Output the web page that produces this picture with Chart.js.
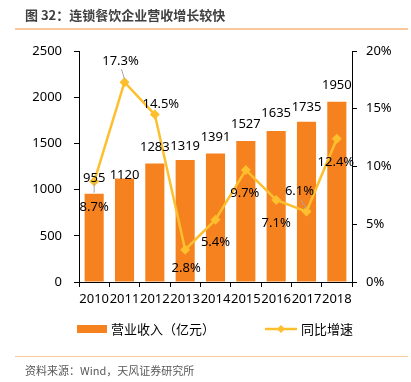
<!DOCTYPE html>
<html><head><meta charset="utf-8">
<script src="https://cdn.jsdelivr.net/npm/chart.js@4/dist/chart.umd.min.js"></script>
<style>
html,body{margin:0;padding:0;background:#fff;}
#wrap{position:relative;width:411px;height:382px;overflow:hidden;font-family:"Noto Sans CJK SC","Noto Sans",sans-serif;}
#title{position:absolute;left:25px;top:5px;font-size:13px;font-weight:bold;color:#404040;line-height:20px;white-space:nowrap;}
#tline{position:absolute;left:15px;top:28px;width:393px;height:2px;background:#F9C89B;}
#bline{position:absolute;left:15px;top:356px;width:393px;height:1px;background:#F9C89B;}
#src{position:absolute;left:25px;top:362px;font-size:11px;color:#595959;line-height:16px;white-space:nowrap;}
#chartbox{position:absolute;left:0;top:0;width:411px;height:382px;}
</style></head>
<body><div id="wrap">
<div id="chartbox"><canvas id="c" width="411" height="382"></canvas></div>
<div id="title">图 32：连锁餐饮企业营收增长较快</div>
<div id="tline"></div>
<div id="bline"></div>
<div id="src">资料来源：Wind，天风证券研究所</div>
</div>
<script>
const years = ['2010','2011','2012','2013','2014','2015','2016','2017','2018'];
const revenue = [955, 1120, 1283, 1319, 1391, 1527, 1635, 1735, 1950];
const growth = [8.7, 17.3, 14.5, 2.8, 5.4, 9.7, 7.1, 6.1, 12.4];
const revenueTicks = [0, 500, 1000, 1500, 2000, 2500];
const growthTicks = [0, 5, 10, 15, 20];
const revenueName = '营业收入（亿元）';
const growthName = '同比增速';

const BAR_COLOR = '#F5821F';
const LINE_COLOR = '#FDBF2D';
const NUM_FONT = '13px "Noto Sans", sans-serif';
const CJK_FONT = '13px "Noto Sans CJK SC", sans-serif';

// label placement (styling only)
const barLabelLift = [12, 0, 12, 10, 12, 13, 14, 11, 13];
const pctLabelShift = [[0,26],[-4,-21],[6,-10],[1,19],[0,23],[-1,23],[0,23],[-7,-20],[-1,24]];
const leaderBars = [0];
const leaderPcts = [1, 7];

const labelPlugin = {
  id: 'labels',
  afterDatasetsDraw(chart) {
    const ctx = chart.ctx;
    ctx.save();
    ctx.font = NUM_FONT;
    ctx.fillStyle = '#000';
    ctx.textAlign = 'center';
    const bars = chart.getDatasetMeta(0).data;
    bars.forEach((el, i) => {
      const y = el.y - barLabelLift[i];
      if (leaderBars.includes(i)) {
        ctx.strokeStyle = '#A6A6A6'; ctx.lineWidth = 1;
        ctx.beginPath(); ctx.moveTo(el.x, y + 1); ctx.lineTo(el.x, el.y - 1); ctx.stroke();
      }
      ctx.textBaseline = 'alphabetic';
      ctx.fillText(String(revenue[i]), el.x, y);
    });
    const pts = chart.getDatasetMeta(1).data;
    pts.forEach((el, i) => {
      const [dx, dy] = pctLabelShift[i];
      const x = el.x + dx, y = el.y + dy;
      if (leaderPcts.includes(i)) {
        ctx.strokeStyle = '#A6A6A6'; ctx.lineWidth = 1;
        ctx.beginPath(); ctx.moveTo(x + 1, y + 8); ctx.lineTo(el.x, el.y - 3); ctx.stroke();
      }
      ctx.textBaseline = 'middle';
      ctx.fillText(growth[i].toFixed(1) + '%', x, y);
    });
    ctx.restore();
  },
  afterDraw(chart) {
    const ctx = chart.ctx;
    ctx.save();
    const ly = 329;
    ctx.fillStyle = BAR_COLOR;
    ctx.fillRect(77, ly - 4, 30, 8);
    ctx.font = CJK_FONT;
    ctx.fillStyle = '#000';
    ctx.textAlign = 'left';
    ctx.textBaseline = 'middle';
    ctx.fillText(chart.data.datasets[0].label, 111, ly);
    ctx.strokeStyle = LINE_COLOR; ctx.lineWidth = 2.5;
    ctx.beginPath(); ctx.moveTo(265, ly); ctx.lineTo(297, ly); ctx.stroke();
    ctx.fillStyle = LINE_COLOR;
    ctx.beginPath(); ctx.moveTo(281, ly - 4); ctx.lineTo(285, ly); ctx.lineTo(281, ly + 4); ctx.lineTo(277, ly); ctx.closePath(); ctx.fill();
    ctx.fillStyle = '#000';
    ctx.fillText(chart.data.datasets[1].label, 301, ly);
    ctx.restore();
  }
};

new Chart(document.getElementById('c'), {
  data: {
    labels: years,
    datasets: [
      { type: 'bar', label: revenueName, data: revenue, backgroundColor: BAR_COLOR,
        yAxisID: 'y', barPercentage: 0.63, categoryPercentage: 1.0, order: 2 },
      { type: 'line', label: growthName, data: growth, borderColor: LINE_COLOR, backgroundColor: LINE_COLOR,
        borderWidth: 2.5, pointStyle: 'rectRot', pointRadius: 5, pointBorderWidth: 0, tension: 0,
        yAxisID: 'y1', order: 1 }
    ]
  },
  options: {
    responsive: false,
    animation: false,
    devicePixelRatio: 1,
    layout: { padding: { top: 51, left: 0, right: 0, bottom: 70 } },
    plugins: { legend: { display: false }, tooltip: { enabled: false }, title: { display: false } },
    scales: {
      x: {
        grid: { offset: true, drawOnChartArea: false, tickLength: 5, color: '#000' },
        border: { color: '#000', width: 1 },
        ticks: { color: '#000', font: { family: 'Noto Sans', size: 13 }, padding: 4, maxRotation: 0, autoSkip: false },
        afterFit(s) { s.height = 30; }
      },
      y: {
        position: 'left', min: 0, max: 2500,
        afterBuildTicks(s) { s.ticks = revenueTicks.map(v => ({ value: v })); },
        grid: { drawOnChartArea: false, tickLength: 5, color: '#000' },
        border: { color: '#000', width: 1 },
        ticks: { color: '#000', font: { family: 'Noto Sans', size: 13 }, padding: 12, callback: v => String(v) },
        afterFit(s) { s.width = 79; }
      },
      y1: {
        position: 'right', min: 0, max: 20,
        afterBuildTicks(s) { s.ticks = growthTicks.map(v => ({ value: v })); },
        grid: { drawOnChartArea: false, tickLength: 5, color: '#000' },
        border: { color: '#000', width: 1 },
        ticks: { color: '#000', font: { family: 'Noto Sans', size: 13 }, padding: 9, callback: v => v + '%' },
        afterFit(s) { s.width = 59; }
      }
    }
  },
  plugins: [labelPlugin]
});
</script>
</body></html>
